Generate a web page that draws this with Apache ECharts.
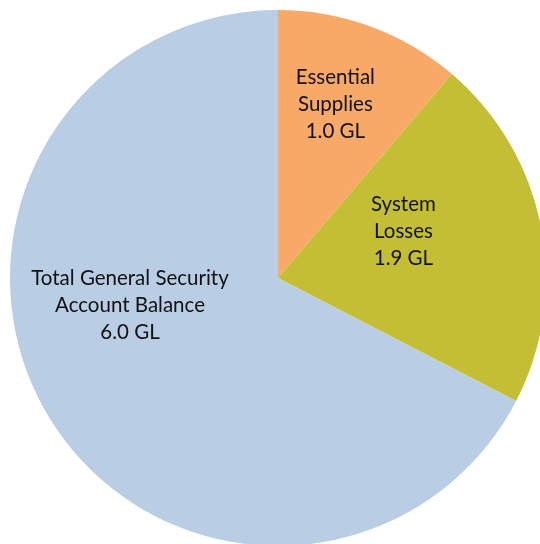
<!DOCTYPE html>
<html>
<head>
<meta charset="utf-8">
<script src="https://cdn.jsdelivr.net/npm/echarts@6/dist/echarts.min.js"></script>
<style>
html,body{margin:0;padding:0;background:#fff;}
#c{width:540px;height:544px;}
</style>
</head>
<body>
<div id="c"></div>
<script>
var categories = ['Essential\nSupplies', 'System\nLosses', 'Total General Security\nAccount Balance'];
var values = [1.0, 1.9, 6.0];
var colors = ['#F9A967', '#C3BE33', '#B9CDE5'];
var labelOffsets = [[10, -45], [-9, -20], [-31, -44]];

var chart = echarts.init(document.getElementById('c'));
chart.setOption({
  animation: false,
  series: [{
    type: 'pie',
    center: [278, 278],
    radius: [0, 268],
    startAngle: 90,
    clockwise: true,
    silent: true,
    itemStyle: { borderWidth: 0 },
    label: {
      show: true,
      position: 'inside',
      fontFamily: 'Lato',
      fontSize: 20.5,
      lineHeight: 27,
      color: '#111',
      align: 'center',
      formatter: function (p) { return p.name + '\n' + p.value.toFixed(1) + ' GL'; }
    },
    labelLine: { show: false },
    data: categories.map(function (c, i) {
      return { name: c, value: values[i], itemStyle: { color: colors[i] }, label: { offset: labelOffsets[i] } };
    })
  }]
});
</script>
</body>
</html>
